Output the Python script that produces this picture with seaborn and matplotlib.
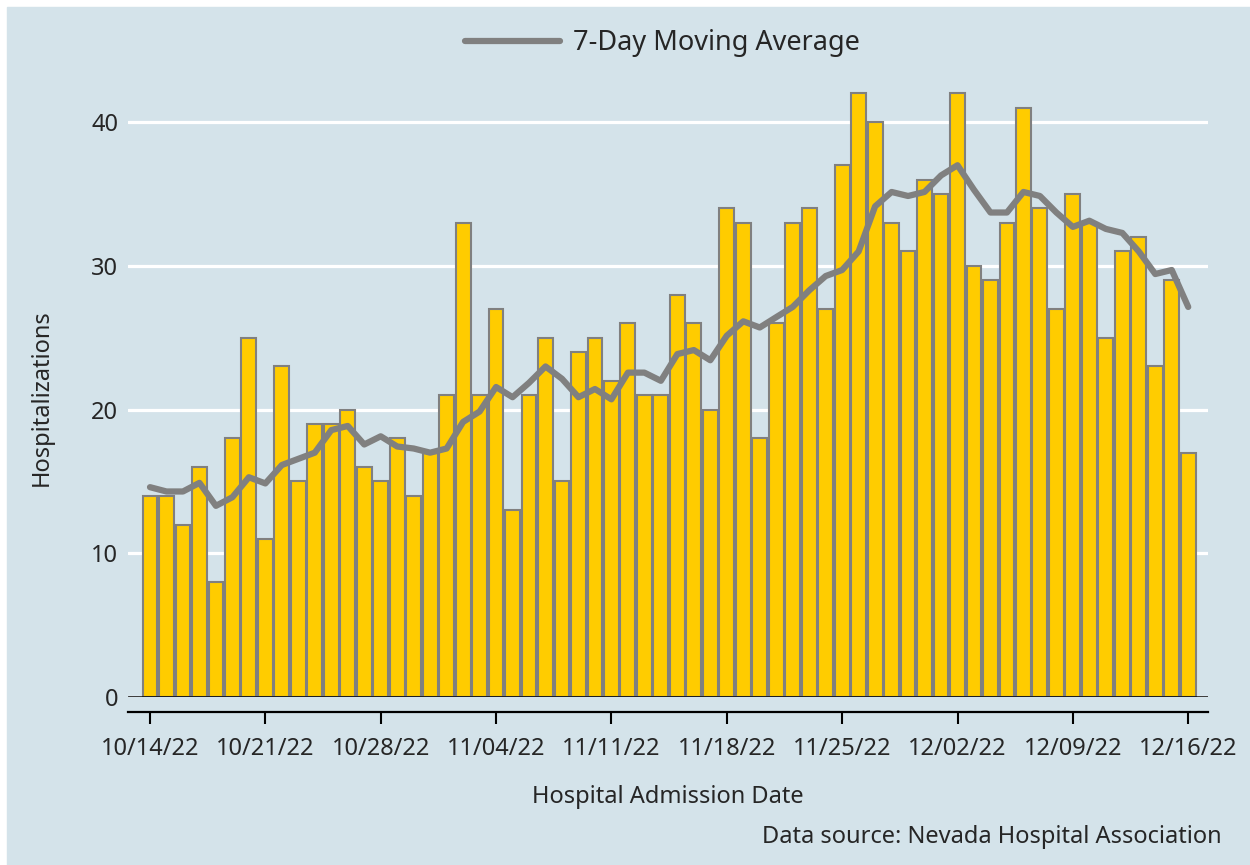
import numpy as np
import pandas as pd
import matplotlib
matplotlib.use("Agg")
import matplotlib.pyplot as plt
from matplotlib.patches import Rectangle
import seaborn as sns

# Daily hospital admissions, 10/14/22 - 12/16/22
start_date = "2022-10-14"
hospitalizations = [
    14, 14, 12, 16, 8, 18, 25, 11, 23, 15, 19, 19, 20, 16, 15, 18, 14, 17,
    21, 33, 21, 27, 13, 21, 25, 15, 24, 25, 22, 26, 21, 21, 28, 26, 20, 34,
    33, 18, 26, 33, 34, 27, 37, 42, 40, 33, 31, 36, 35, 42, 30, 29, 33, 41,
    34, 27, 35, 33, 25, 31, 32, 23, 29, 17,
]
moving_avg = [
    14.6, 14.3, 14.3, 14.9, 13.3, 13.9, 15.29, 14.86, 16.14, 16.57, 17.0,
    18.57, 18.86, 17.57, 18.14, 17.43, 17.29, 17.0, 17.29, 19.14, 19.86,
    21.57, 20.86, 21.86, 23.0, 22.14, 20.86, 21.43, 20.71, 22.57, 22.57,
    22.0, 23.86, 24.14, 23.43, 25.14, 26.14, 25.71, 26.43, 27.14, 28.29,
    29.29, 29.71, 31.0, 34.14, 35.14, 34.86, 35.14, 36.29, 37.0, 35.29,
    33.71, 33.71, 35.14, 34.86, 33.71, 32.71, 33.14, 32.57, 32.29, 31.0,
    29.43, 29.71, 27.14,
]
y_ticks = [0, 10, 20, 30, 40]

dates = pd.date_range(start_date, periods=len(hospitalizations), freq="D")
df = pd.DataFrame({
    "day": np.arange(len(dates)),
    "count": hospitalizations,
    "avg": moving_avg,
})
tick_days = df["day"][::7]
tick_labels = [d.strftime("%m/%d/%y") for d in dates[::7]]

bg = "#d4e3ea"
bar_color = "#ffcc00"
gray = "#808080"

sns.set_style("white")
plt.rcParams["font.family"] = ["Noto Sans", "DejaVu Sans"]
plt.rcParams["font.size"] = 17

fig = plt.figure(figsize=(12.5, 8.65), dpi=100, facecolor="white")
fig.patches.append(Rectangle((7 / 1250, 0), 1 - 7 / 1250, 1 - 7 / 865,
                             transform=fig.transFigure, color=bg, zorder=-10))
ax = fig.add_axes([128 / 1250, (865 - 697) / 865, 1080 / 1250, 618 / 865])
ax.set_facecolor(bg)

sns.barplot(data=df, x="day", y="count", native_scale=True, color=bar_color,
            saturation=1, edgecolor=gray, linewidth=1.5, width=0.9, ax=ax)
sns.lineplot(data=df, x="day", y="avg", color=gray, linewidth=4.5,
             label="7-Day Moving Average", ax=ax)
ax.get_legend().remove()

ax.set_xlim(-1.335, 64.2)
ax.set_ylim(0, 43)
ax.set_yticks(y_ticks)
ax.set_xticks(tick_days)
ax.set_xticklabels(tick_labels)

ax.set_axisbelow(True)
ax.yaxis.grid(True, color="white", linewidth=2.3)
ax.xaxis.grid(False)
ax.axhline(0, color="black", linewidth=1.8, zorder=5)

for s in ["top", "right", "left"]:
    ax.spines[s].set_visible(False)
ax.spines["bottom"].set_position(("outward", 10.8))
ax.spines["bottom"].set_linewidth(1.6)
ax.spines["bottom"].set_color("black")
ax.tick_params(axis="x", length=8.6, width=1.5, color="black", pad=9.5,
               bottom=True, direction="out")
ax.tick_params(axis="y", length=0, pad=7)

ax.set_xlabel("Hospital Admission Date")
ax.set_ylabel("Hospitalizations")
ax.xaxis.set_label_coords(0.5, -0.142)
ax.yaxis.set_label_coords(-0.0685, 0.485)

handles, labels = ax.get_legend_handles_labels()
fig.legend(handles, labels, loc="center", bbox_to_anchor=(0.53, 0.95),
           frameon=False, fontsize=19.5, handlelength=3.5, handletextpad=0.48)

fig.text(1222 / 1250, 1 - 837 / 865, "Data source: Nevada Hospital Association",
         ha="right", va="center")

fig.savefig("out.png", dpi=100, facecolor=fig.get_facecolor())
